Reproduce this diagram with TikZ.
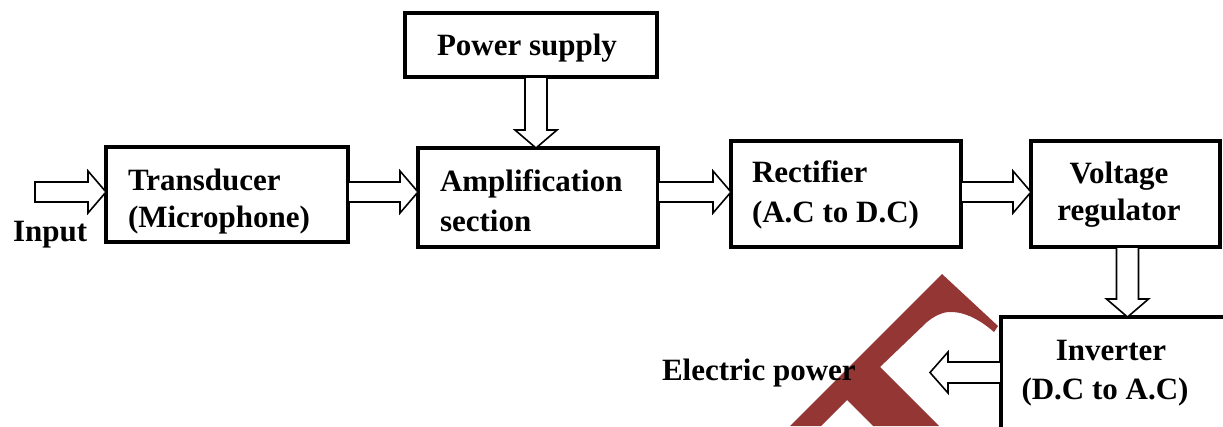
\documentclass[tikz,border=0pt]{standalone}
\usepackage{fontspec}
\setmainfont{Liberation Serif}
\usetikzlibrary{calc}
\definecolor{wmred}{RGB}{148,54,52}
\tikzset{
  box/.style={draw=black, line width=3.5pt, inner sep=0pt, outer sep=0pt},
  lbl/.style={font=\fontsize{31}{36}\selectfont\bfseries, inner sep=0pt, outer sep=0pt},
  blk/.style={draw=black, fill=white, line width=1.6pt, line join=miter},
  wm/.style={fill=wmred},
}
% hollow block arrows: #1 start, #2 end, #3 reference coordinate for the axis
\newcommand\blkright[3]{%
  \draw[blk] let \p1=(#1), \p2=(#2), \p3=(#3) in
    (\x1,\y3+10pt) -- (\x2-18pt,\y3+10pt) -- (\x2-18pt,\y3+21pt) -- (\x2,\y3)
    -- (\x2-18pt,\y3-21pt) -- (\x2-18pt,\y3-10pt) -- (\x1,\y3-10pt) -- cycle;}
\newcommand\blkleft[3]{%
  \draw[blk] let \p1=(#1), \p2=(#2), \p3=(#3) in
    (\x1,\y3+10.5pt) -- (\x2+18pt,\y3+10.5pt) -- (\x2+18pt,\y3+20.5pt) -- (\x2,\y3)
    -- (\x2+18pt,\y3-20.5pt) -- (\x2+18pt,\y3-10.5pt) -- (\x1,\y3-10.5pt) -- cycle;}
\newcommand\blkdown[3]{%
  \draw[blk] let \p1=(#1), \p2=(#2), \p3=(#3) in
    (\x3-11pt,\y1) -- (\x3-11pt,\y2+18pt) -- (\x3-21pt,\y2+18pt) -- (\x3,\y2)
    -- (\x3+21pt,\y2+18pt) -- (\x3+11pt,\y2+18pt) -- (\x3+11pt,\y1) -- cycle;}
\begin{document}
\begin{tikzpicture}[x=1pt,y=-1pt]
\useasboundingbox (0,0) rectangle (1223,426);
% watermark
\fill[wm] (942,274) -- (998,326) -- (994,332)
  .. controls (978,318) and (962,311) .. (948,312)
  .. controls (940,313) and (933,317) .. (927,322)
  -- (880,367) -- (939,426) -- (873,426) -- (847,400) -- (821,426) -- (790,426) -- cycle;
% boxes
\node[box, minimum width=242pt, minimum height=95pt] (t) at (227,194.5) {};
\node[box, minimum width=252pt, minimum height=64pt] (p) at (531,45) {};
\node[box, minimum width=240pt, minimum height=99pt] (a) at (538,197.5) {};
\node[box, minimum width=230pt, minimum height=106pt] (r) at (846,194) {};
\node[box, minimum width=189pt, minimum height=106pt] (v) at (1125.5,194) {};
\node[box, minimum width=239pt, minimum height=123pt] (inv) at (1120.5,378.5) {};
% reference coordinates
\coordinate (in0) at (35,192);
\coordinate (ep) at (930,372.5);
\coordinate (yh) at (0,192);
\coordinate (yl) at (0,372.5);
\coordinate (xp) at (536,0);
\coordinate (xv) at (1127.5,0);
% arrows
\blkright{in0}{t.west}{yh}
\blkright{t.east}{a.west}{yh}
\blkright{a.east}{r.west}{yh}
\blkright{r.east}{v.west}{yh}
\blkdown{p.south}{a.north}{xp}
\blkdown{v.south}{inv.north}{xv}
\blkleft{inv.west}{ep}{yl}
% labels
\node[lbl, anchor=base west] (tIn) at (13,241) {Input};
\node[lbl, anchor=base west] (tT1) at (128,190) {Transducer};
\node[lbl, anchor=base west] (tT2) at (128,227) {(Microphone)};
\node[lbl, anchor=base west] (tP) at (437,55) {Power supply};
\node[lbl, anchor=base west] (tA1) at (440,191) {Amplification};
\node[lbl, anchor=base west] (tA2) at (440,231) {section};
\node[lbl, anchor=base west] (tR1) at (752,182) {Rectifier};
\node[lbl, anchor=base west] (tR2) at (752,222) {(A.C to D.C)};
\node[lbl, anchor=base] (tV1) at (1119,183) {Voltage};
\node[lbl, anchor=base] (tV2) at (1119,220) {regulator};
\node[lbl, anchor=base] (tI1) at (1111,360) {Inverter};
\node[lbl, anchor=base] (tI2) at (1105,399) {(D.C to A.C)};
\node[lbl, anchor=base west] (tE) at (662,380) {Electric power};
\end{tikzpicture}
\end{document}
